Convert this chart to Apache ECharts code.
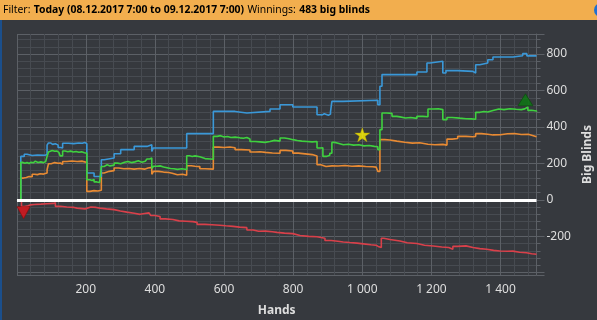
<!DOCTYPE html>
<html>
<head>
<meta charset="utf-8">
<script src="https://cdn.jsdelivr.net/npm/echarts@6/dist/echarts.min.js"></script>
<style>
  html, body { margin: 0; padding: 0; background: #36393e; overflow: hidden; }
  #chart { width: 597px; height: 320px; }
</style>
</head>
<body>
<div id="chart"></div>
<script>
// Session filter shown in the header bar
const filterLabel = 'Filter:';
const filterRange = 'Today (08.12.2017 7:00 to 09.12.2017 7:00)';
const winningsLabel = 'Winnings:';
const winningsBB = 483;

// Axis ranges (hands played, big blinds)
const handRange = [1, 1504];
const bbRange = [-413, 910];

// Showdown winnings (blue), [hand, big blinds]
const showdownWon = [
  [1,0],[12,238],[22,250],[30,243],[45,246],[60,244],[82,248],[88,300],[92,312],[98,304],
  [104,308],[112,300],[120,287],[127,284],[133,310],[150,308],[165,312],[180,310],[190,314],
  [197,308],[203,147],[224,128],[245,220],[253,229],[282,253],[301,275],[340,293],[377,302],
  [391,265],[395,284],[492,363],[569,485],[632,476],[666,485],[733,498],[762,522],[799,509],
  [869,467],[878,466],[884,472],[890,464],[902,470],[908,482],[912,540],[944,546],[1045,522],
  [1051,623],[1057,687],[1158,701],[1187,751],[1196,760],[1233,696],[1242,709],[1276,705],
  [1320,696],[1328,741],[1340,751],[1363,769],[1378,784],[1436,791],[1464,802],[1476,790],[1504,793]
];

// Net won (green)
const netWon = [
  [1,0],[12,205],[18,200],[24,204],[30,199],[36,206],[42,203],[48,212],[54,205],[62,208],
  [70,204],[78,210],[84,213],[88,238],[92,262],[97,270],[103,266],[110,268],[116,260],[122,262],
  [126,241],[133,268],[140,264],[148,267],[156,262],[164,265],[172,261],[180,263],[188,258],
  [196,256],[203,110],[212,106],[218,112],[224,98],[232,95],[240,92],[245,183],[253,192],
  [262,186],[270,190],[282,201],[292,198],[301,206],[312,210],[322,204],[332,208],[342,214],
  [352,206],[362,212],[372,218],[377,224],[385,229],[391,172],[396,184],[405,186],[415,180],
  [425,176],[435,172],[445,170],[455,167],[465,170],[478,166],[492,242],[500,238],[508,241],
  [516,236],[530,226],[545,224],[560,222],[569,348],[580,352],[590,345],[600,347],[610,342],
  [620,344],[632,340],[646,338],[656,342],[666,334],[675,320],[690,318],[704,315],[718,320],
  [733,326],[746,322],[762,339],[775,335],[788,330],[799,325],[812,322],[825,320],[840,318],
  [855,320],[869,284],[878,286],[886,238],[896,244],[906,255],[912,315],[920,310],[930,302],
  [945,305],[960,300],[975,302],[990,296],[1005,298],[1020,293],[1035,291],[1045,275],
  [1051,385],[1057,476],[1070,474],[1086,458],[1100,455],[1109,449],[1125,452],[1140,447],
  [1158,458],[1175,456],[1190,498],[1205,500],[1220,495],[1233,440],[1245,452],[1260,448],
  [1282,445],[1300,444],[1315,442],[1328,480],[1340,485],[1352,482],[1363,490],[1378,498],
  [1395,495],[1410,500],[1427,497],[1445,495],[1460,499],[1470,509],[1479,491],[1490,487],[1504,483]
];

// All-in EV adjusted (orange)
const allInEv = [
  [1,0],[12,119],[20,122],[28,128],[36,126],[45,140],[52,138],[60,143],[68,141],[78,147],
  [88,165],[92,198],[100,204],[110,200],[120,202],[126,195],[133,210],[145,213],[160,210],
  [175,212],[190,208],[197,206],[203,46],[212,50],[224,48],[235,52],[245,147],[253,156],
  [268,160],[282,174],[295,170],[310,172],[325,168],[340,172],[355,168],[370,174],[380,178],
  [391,140],[396,156],[410,152],[425,150],[440,146],[450,137],[465,140],[480,135],[492,187],
  [505,184],[516,182],[530,170],[545,168],[569,289],[585,287],[600,290],[617,286],[632,275],
  [650,273],[675,262],[690,264],[704,260],[720,257],[740,255],[762,271],[779,268],[799,256],
  [815,252],[835,248],[855,240],[869,192],[880,183],[895,186],[912,185],[930,188],[950,184],
  [970,186],[990,183],[1010,181],[1030,179],[1040,176],[1045,156],[1051,330],[1065,328],
  [1080,322],[1100,316],[1123,311],[1145,313],[1166,305],[1190,302],[1210,304],[1233,300],
  [1245,333],[1260,336],[1276,348],[1300,346],[1320,348],[1328,363],[1345,360],[1363,356],
  [1378,357],[1400,362],[1420,364],[1440,358],[1460,360],[1480,352],[1495,346],[1504,344]
];

// Non-showdown winnings (red)
const nonShowdownWon = [
  [1,0],[8,-5],[14,-37],[22,-35],[30,-28],[40,-26],[51,-24],[70,-22],[88,-20],[106,-17],
  [112,-36],[126,-40],[145,-42],[166,-46],[175,-50],[198,-40],[215,-42],[230,-46],[241,-50],
  [260,-54],[282,-62],[300,-68],[319,-74],[340,-80],[357,-75],[370,-72],[383,-64],[388,-86],
  [400,-92],[415,-105],[430,-108],[452,-116],[470,-118],[490,-120],[510,-124],[522,-135],
  [545,-137],[565,-140],[588,-143],[605,-146],[626,-150],[645,-153],[666,-166],[684,-173],
  [700,-172],[720,-176],[740,-179],[753,-183],[775,-186],[799,-196],[820,-201],[845,-203],
  [869,-211],[892,-224],[910,-228],[929,-232],[945,-235],[964,-238],[985,-242],[1003,-247],
  [1025,-250],[1040,-256],[1046,-262],[1055,-211],[1062,-218],[1080,-226],[1109,-236],
  [1130,-240],[1158,-250],[1180,-254],[1205,-259],[1230,-262],[1250,-271],[1262,-256],
  [1275,-253],[1300,-262],[1320,-268],[1340,-272],[1360,-278],[1380,-281],[1398,-283],
  [1420,-282],[1436,-288],[1455,-291],[1475,-296],[1490,-299],[1504,-300]
];

// Event markers: [hand, big blinds]
const worstHand = [[20, -71]];
const starHand = [[1000, 357]];
const bestHand = [[1472, 549]];

const gridMajor = '#5c6066';
const gridMinor = '#474b51';
const labelColor = '#dedede';
const fontFamily = 'Noto Sans, Liberation Sans, sans-serif';

function handLabel(v) {
  if (v % 200 !== 0) return '';
  if (v >= 1000) {
    const rest = String(v % 1000).padStart(3, '0');
    return Math.floor(v / 1000) + ' ' + rest;
  }
  return String(v);
}
// Labels too close to the plot edge are left out
function bbLabel(v) {
  if (v % 200 !== 0) return '';
  if (v - bbRange[0] < 30 || bbRange[1] - v < 30) return '';
  return String(v);
}

function lineSeries(name, data, color, extra) {
  return Object.assign({
    name: name,
    type: 'line',
    data: data,
    step: 'end',
    symbol: 'none',
    silent: true,
    animation: false,
    lineStyle: { color: color, width: 1.6 },
    z: 3
  }, extra || {});
}

const chart = echarts.init(document.getElementById('chart'), null, { renderer: 'canvas' });
chart.setOption({
  backgroundColor: '#36393e',
  animation: false,
  grid: { left: 17, top: 34, width: 519.5, height: 241, containLabel: false, outerBoundsMode: 'none' },
  graphic: [
    { type: 'rect', left: 0, top: 0, shape: { width: 597, height: 20 }, style: { fill: '#f2ae4e' }, z: 0 },
    { type: 'rect', left: 0, top: 20, shape: { width: 2, height: 300 }, style: { fill: '#1b4f8c' }, z: 0 },
    { type: 'circle', shape: { cx: 601, cy: 10, r: 7 }, style: { fill: '#1f6fd0' }, z: 1 },
    {
      type: 'text', left: 3, top: 4, z: 2,
      style: {
        text: '{a|' + filterLabel + '} {b|' + filterRange + '} {a|' + winningsLabel + '} {b|' + winningsBB + ' big blinds}',
        rich: {
          a: { fontFamily: fontFamily, fontSize: 10.4, color: '#3b3b3b' },
          b: { fontFamily: fontFamily, fontSize: 10.4, fontWeight: 'bold', color: '#141414' }
        }
      }
    }
  ],
  xAxis: {
    type: 'value',
    min: handRange[0], max: handRange[1],
    minInterval: 200, maxInterval: 200,
    name: 'Hands', nameLocation: 'middle', nameGap: 30,
    nameTextStyle: { color: labelColor, fontFamily: fontFamily, fontSize: 12, fontWeight: 'bold' },
    axisLine: { show: true, lineStyle: { color: gridMajor, width: 1 } },
    axisTick: { show: true, length: 8, lineStyle: { color: gridMajor } },
    minorTick: { show: true, splitNumber: 5, length: 4, lineStyle: { color: gridMajor } },
    axisLabel: { formatter: handLabel, color: labelColor, fontFamily: fontFamily, fontSize: 12, margin: 9 },
    splitLine: { show: true, lineStyle: { color: gridMajor, width: 1 } },
    minorSplitLine: { show: true, lineStyle: { color: gridMinor, width: 1 } }
  },
  yAxis: {
    type: 'value',
    position: 'right',
    min: bbRange[0], max: bbRange[1],
    minInterval: 200, maxInterval: 200,
    name: 'Big Blinds', nameLocation: 'middle', nameGap: 42, nameRotate: 90,
    nameTextStyle: { color: labelColor, fontFamily: fontFamily, fontSize: 12, fontWeight: 'bold' },
    axisLine: { show: true, lineStyle: { color: gridMajor, width: 1 } },
    axisTick: { show: true, length: 8, lineStyle: { color: gridMajor } },
    minorTick: { show: true, splitNumber: 5, length: 4, lineStyle: { color: gridMajor } },
    axisLabel: { formatter: bbLabel, color: labelColor, fontFamily: fontFamily, fontSize: 12, margin: 10 },
    splitLine: { show: true, lineStyle: { color: gridMajor, width: 1 } },
    minorSplitLine: { show: true, lineStyle: { color: gridMinor, width: 1 } }
  },
  series: [
    lineSeries('Non-showdown', nonShowdownWon, '#d9404a', {
      markLine: {
        silent: true, symbol: 'none', animation: false,
        label: { show: false },
        lineStyle: { color: '#ffffff', width: 3, type: 'solid' },
        data: [{ yAxis: 0 }]
      }
    }),
    lineSeries('All-in EV', allInEv, '#e88a33'),
    lineSeries('Showdown', showdownWon, '#3a98d8'),
    lineSeries('Net won', netWon, '#3fd13f'),
    {
      type: 'scatter', data: worstHand, symbol: 'triangle', symbolRotate: 180, symbolSize: [13, 12],
      itemStyle: { color: '#e5141c', borderColor: '#8a0a0a', borderWidth: 0.8 }, silent: true, z: 5
    },
    {
      type: 'scatter', data: starHand, symbol: 'path://M50,0 L61.8,35.1 L98.8,35.1 L68.9,57.2 L80.3,92.7 L50,70.8 L19.7,92.7 L31.1,57.2 L1.2,35.1 L38.2,35.1 Z',
      symbolSize: [15, 14], itemStyle: { color: '#fff200', borderColor: '#b8a400', borderWidth: 0.5 }, silent: true, z: 5
    },
    {
      type: 'scatter', data: bestHand, symbol: 'triangle', symbolSize: [15, 12],
      itemStyle: { color: '#0b7a12', borderColor: '#064a09', borderWidth: 0.8 }, silent: true, z: 5
    }
  ]
});
</script>
</body>
</html>
